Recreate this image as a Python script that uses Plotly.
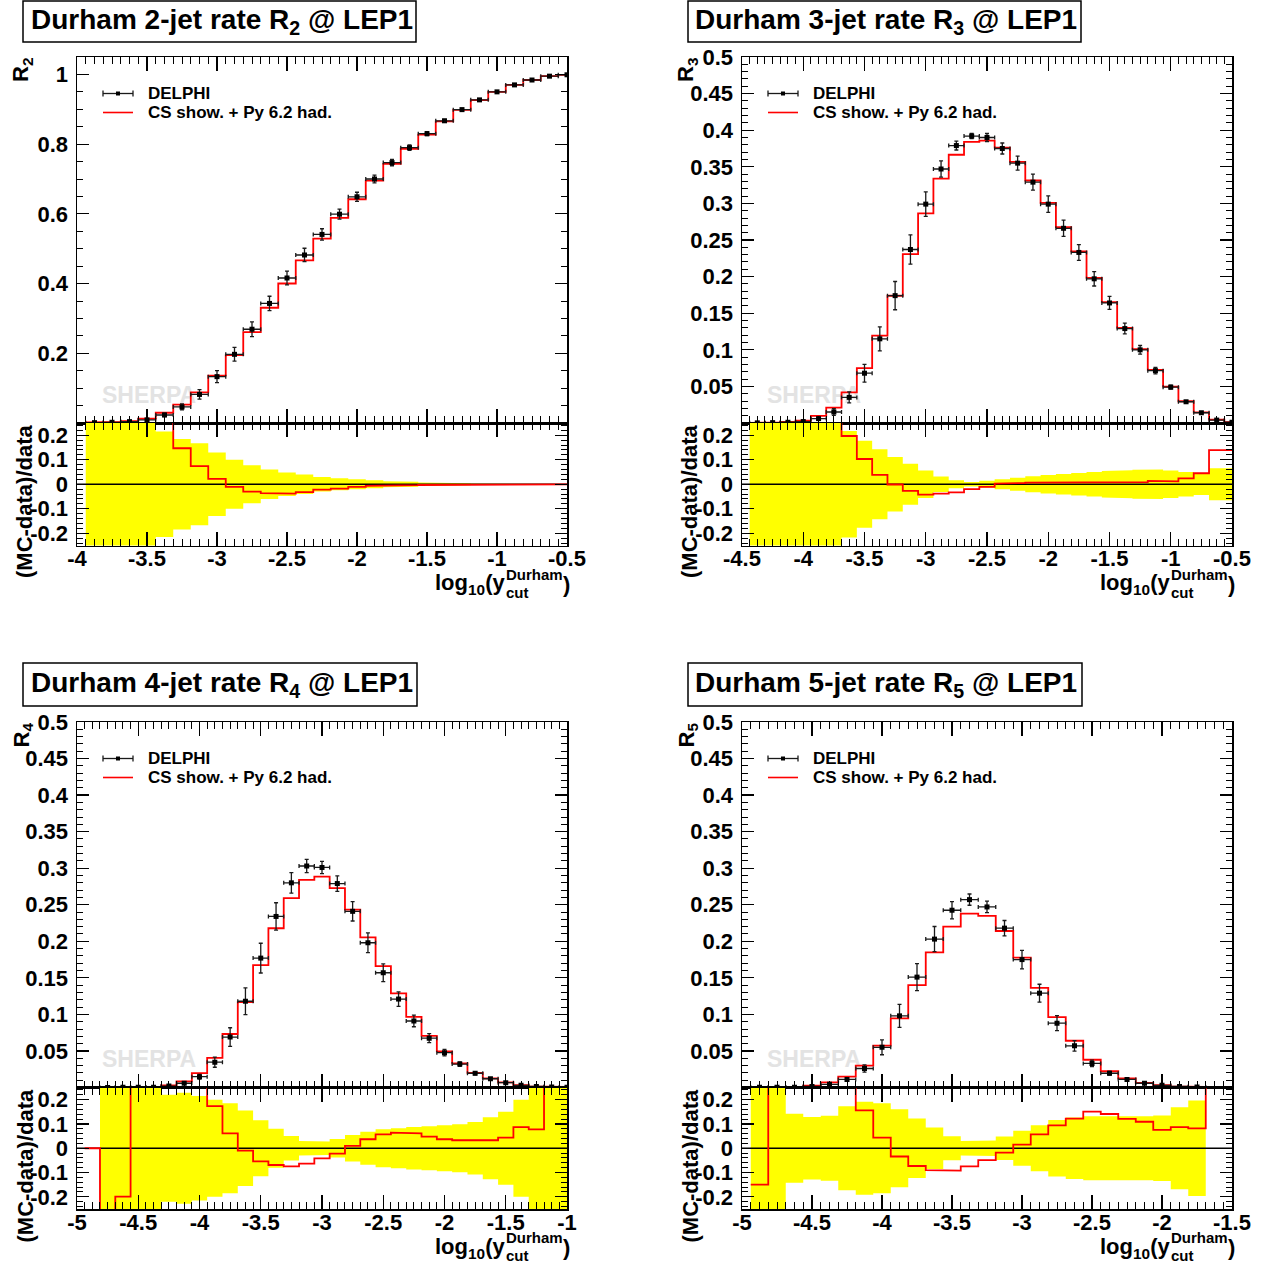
import plotly.graph_objects as go

W, H = 1266, 1268
OFF = 0  # page body margin is removed by the post script
BW = 0.125  # bin width in log10(ycut)
FONT = "Liberation Sans, Arial, Helvetica, sans-serif"

# ---------------- R2 ----------------
r2_x = [-3.875, -3.75, -3.625, -3.5, -3.375, -3.25, -3.125, -3.0, -2.875, -2.75, -2.625, -2.5,
        -2.375, -2.25, -2.125, -2.0, -1.875, -1.75, -1.625, -1.5, -1.375, -1.25, -1.125, -1.0,
        -0.875, -0.75, -0.625, -0.5]
r2_data = [0.001, 0.002, 0.004, 0.009, 0.023, 0.046, 0.082, 0.133, 0.197, 0.269, 0.343, 0.416,
           0.482, 0.541, 0.599, 0.649, 0.700, 0.747, 0.790, 0.830, 0.867, 0.899, 0.927, 0.950,
           0.970, 0.984, 0.995, 0.999]
r2_relerr = [0.6, 0.5, 0.4, 0.3, 0.215, 0.185, 0.167, 0.13, 0.10, 0.078, 0.06, 0.048,
             0.04, 0.03, 0.024, 0.02, 0.016, 0.012, 0.01, 0.007, 0.005, 0.004, 0.003, 0.002,
             0.0015, 0.001, 0.001, 0.001]
r2_ratio = [0.5, 0.5, 0.35, 0.4, 0.28, 0.147, 0.074, 0.022, -0.011, -0.030, -0.036, -0.038,
            -0.032, -0.022, -0.018, -0.011, -0.007, -0.005, -0.004, -0.003, -0.002, -0.001, -0.001, 0.0,
            0.0, 0.0, 0.0, 0.0]

# ---------------- R3 ----------------
r3_x = [-4.375, -4.25, -4.125, -4.0, -3.875, -3.75, -3.625, -3.5, -3.375, -3.25, -3.125, -3.0,
        -2.875, -2.75, -2.625, -2.5, -2.375, -2.25, -2.125, -2.0, -1.875, -1.75, -1.625, -1.5,
        -1.375, -1.25, -1.125, -1.0, -0.875, -0.75, -0.625, -0.5]
r3_data = [0.0002, 0.0005, 0.001, 0.002, 0.006, 0.015, 0.035, 0.068, 0.115, 0.174, 0.237, 0.299,
           0.347, 0.379, 0.392, 0.390, 0.375, 0.355, 0.329, 0.299, 0.266, 0.233, 0.197, 0.164,
           0.129, 0.100, 0.0715, 0.049, 0.029, 0.014, 0.004, 0.001]
r3_relerr = [0.6, 0.6, 0.5, 0.4, 0.35, 0.3, 0.217, 0.178, 0.143, 0.111, 0.084, 0.056,
             0.032, 0.016, 0.009, 0.014, 0.02, 0.027, 0.033, 0.038, 0.042, 0.046, 0.05, 0.054,
             0.057, 0.059, 0.06, 0.056, 0.05, 0.044, 0.065, 0.065]
r3_ratio = [0.5, 0.5, 0.5, 0.6, 0.6, 0.4, 0.197, 0.103, 0.038, -0.001, -0.027, -0.042,
            -0.038, -0.033, -0.02, -0.011, 0.003, 0.005, 0.007, 0.006, 0.006, 0.006, 0.006, 0.007,
            0.008, 0.009, 0.014, 0.012, 0.024, 0.045, 0.139, 0.139]

# ---------------- R4 ----------------
r4_x = [-4.875, -4.75, -4.625, -4.5, -4.375, -4.25, -4.125, -4.0, -3.875, -3.75, -3.625, -3.5,
        -3.375, -3.25, -3.125, -3.0, -2.875, -2.75, -2.625, -2.5, -2.375, -2.25, -2.125, -2.0,
        -1.875, -1.75, -1.625, -1.5, -1.375, -1.25, -1.125, -1.0]
r4_data = [None, 0.0001, 0.0002, 0.0003, 0.0005, 0.002, 0.0058, 0.0148, 0.0346, 0.069, 0.118, 0.177,
           0.234, 0.280, 0.303, 0.301, 0.279, 0.241, 0.198, 0.157, 0.121, 0.091, 0.0675, 0.0477,
           0.032, 0.0195, 0.012, 0.0066, 0.003, 0.0015, 0.0008, 0.0004]
r4_relerr = [0.0, 0.6, 0.4, 0.3, 0.27, 0.22, 0.228, 0.215, 0.2, 0.185, 0.155, 0.115,
             0.08, 0.05, 0.03, 0.028, 0.038, 0.055, 0.068, 0.078, 0.082, 0.087, 0.091, 0.095,
             0.099, 0.108, 0.128, 0.15, 0.2, 0.3, 0.4, 0.5]
r4_ratio = [0.0, -0.5, -0.199, 0.5, 0.6, 0.5, 0.46, 0.32, 0.173, 0.061, -0.0095, -0.054,
            -0.069, -0.075, -0.063, -0.042, -0.022, 0.0095, 0.037, 0.057, 0.064, 0.061, 0.048, 0.037,
            0.033, 0.033, 0.033, 0.044, 0.087, 0.078, 0.5, 0.5]

# ---------------- R5 ----------------
r5_x = [-4.875, -4.75, -4.625, -4.5, -4.375, -4.25, -4.125, -4.0, -3.875, -3.75, -3.625, -3.5,
        -3.375, -3.25, -3.125, -3.0, -2.875, -2.75, -2.625, -2.5, -2.375, -2.25, -2.125, -2.0,
        -1.875, -1.75, -1.625]
r5_data = [0.0003, 0.0004, 0.0005, 0.0015, 0.0044, 0.011, 0.026, 0.055, 0.098, 0.151, 0.203, 0.2425,
           0.257, 0.247, 0.218, 0.175, 0.129, 0.088, 0.057, 0.033, 0.0195, 0.011, 0.0058, 0.003,
           0.0015, 0.0007, None]
r5_relerr = [0.6, 0.5, 0.142, 0.129, 0.134, 0.173, 0.191, 0.185, 0.161, 0.122, 0.085, 0.049,
             0.03, 0.032, 0.048, 0.072, 0.095, 0.116, 0.127, 0.132, 0.132, 0.129, 0.132, 0.135,
             0.169, 0.197, 0.0]
r5_ratio = [-0.15, 1.0, 1.0, 0.8, 0.6, 0.35, 0.156, 0.044, -0.034, -0.073, -0.09, -0.092,
            -0.075, -0.049, -0.018, 0.015, 0.057, 0.094, 0.122, 0.151, 0.141, 0.121, 0.109, 0.076,
            0.087, 0.082, 0.5]

# ---------------- tick labels ----------------
p1_xticks = [-4, -3.5, -3, -2.5, -2, -1.5, -1, -0.5]
p1_xtext = ["-4", "-3.5", "-3", "-2.5", "-2", "-1.5", "-1", "-0.5"]
p2_xticks = [-4.5, -4, -3.5, -3, -2.5, -2, -1.5, -1, -0.5]
p2_xtext = ["-4.5", "-4", "-3.5", "-3", "-2.5", "-2", "-1.5", "-1", "-0.5"]
p3_xticks = [-5, -4.5, -4, -3.5, -3, -2.5, -2, -1.5, -1]
p3_xtext = ["-5", "-4.5", "-4", "-3.5", "-3", "-2.5", "-2", "-1.5", "-1"]
p4_xticks = [-5, -4.5, -4, -3.5, -3, -2.5, -2, -1.5]
p4_xtext = ["-5", "-4.5", "-4", "-3.5", "-3", "-2.5", "-2", "-1.5"]
r2_yticks = [0.2, 0.4, 0.6, 0.8, 1.0]
r2_ytext = ["0.2", "0.4", "0.6", "0.8", "1"]
rn_yticks = [0.05, 0.1, 0.15, 0.2, 0.25, 0.3, 0.35, 0.4, 0.45, 0.5]
rn_ytext = ["0.05", "0.1", "0.15", "0.2", "0.25", "0.3", "0.35", "0.4", "0.45", "0.5"]
ratio_yticks = [-0.2, -0.1, 0, 0.1, 0.2]
ratio_ytext = ["-0.2", "-0.1", "0", "0.1", "0.2"]

DATA_LABEL = "DELPHI"
MC_LABEL = "CS show. + Py 6.2 had."
RATIO_TITLE = "(MC-data)/data"

PANELS = [
    dict(x=r2_x, data=r2_data, rel=r2_relerr, ratio=r2_ratio, xr=[-4, -0.5], xt=p1_xticks, xtt=p1_xtext,
         yr=[0, 1.05], yt=r2_yticks, ytt=r2_ytext, ymin=0.05,
         L=77, R=567, T=57, M=423, B=545.5, box=(23, 416, 1, 42), tx=30,
         title="Durham 2-jet rate R<sub>2</sub> @ LEP1", ylab="R<sub>2</sub>"),
    dict(x=r3_x, data=r3_data, rel=r3_relerr, ratio=r3_ratio, xr=[-4.5, -0.5], xt=p2_xticks, xtt=p2_xtext,
         yr=[0, 0.5], yt=rn_yticks, ytt=rn_ytext, ymin=0.01,
         L=742, R=1232, T=57, M=423, B=545.5, box=(688, 1081, 1, 42), tx=694,
         title="Durham 3-jet rate R<sub>3</sub> @ LEP1", ylab="R<sub>3</sub>"),
    dict(x=r4_x, data=r4_data, rel=r4_relerr, ratio=r4_ratio, xr=[-5, -1], xt=p3_xticks, xtt=p3_xtext,
         yr=[0, 0.5], yt=rn_yticks, ytt=rn_ytext, ymin=0.01,
         L=77, R=567, T=722, M=1087.5, B=1209, box=(23, 417, 663, 706), tx=30,
         title="Durham 4-jet rate R<sub>4</sub> @ LEP1", ylab="R<sub>4</sub>"),
    dict(x=r5_x, data=r5_data, rel=r5_relerr, ratio=r5_ratio, xr=[-5, -1.5], xt=p4_xticks, xtt=p4_xtext,
         yr=[0, 0.5], yt=rn_yticks, ytt=rn_ytext, ymin=0.01,
         L=742, R=1232, T=722, M=1087.5, B=1209, box=(688, 1082, 663, 706), tx=694,
         title="Durham 5-jet rate R<sub>5</sub> @ LEP1", ylab="R<sub>5</sub>"),
]


def fx(p):
    return (p - OFF) / W


def fy(p):
    return 1 - (p - OFF) / H


def steps(centers, vals):
    xs, ys = [], []
    for c, v in zip(centers, vals):
        if v is None:
            xs.append(None)
            ys.append(None)
            continue
        xs += [c - BW / 2, c + BW / 2]
        ys += [v, v]
    return xs, ys


def font(size, color="black"):
    return dict(family=FONT, size=size, color=color, weight="bold")


def ann(text, x, y, size, xanchor="left", yanchor="middle", angle=0, color="black"):
    return dict(text=text, x=fx(x), y=fy(y), xref="paper", yref="paper", xanchor=xanchor,
                yanchor=yanchor, showarrow=False, textangle=angle, font=font(size, color),
                borderpad=0)


fig = go.Figure()
layout = dict(width=W, height=H, margin=dict(l=0, r=0, t=0, b=0, pad=0, autoexpand=False),
              paper_bgcolor="white", plot_bgcolor="white", showlegend=False)
shapes, annotations = [], []

TICKFONT = font(22)

for i, p in enumerate(PANELS):
    im, ir = 2 * i + 1, 2 * i + 2
    xm, ym = ("x" if im == 1 else f"x{im}"), ("y" if im == 1 else f"y{im}")
    xr_, yr_ = f"x{ir}", f"y{ir}"
    xdom = [fx(p["L"]), fx(p["R"])]
    common_x = dict(domain=xdom, range=p["xr"], tickmode="array", tickvals=p["xt"], ticktext=p["xtt"],
                    ticks="inside", ticklen=14, tickwidth=1.2, tickcolor="black",
                    minor=dict(ticks="inside", ticklen=7, tick0=p["xr"][0], dtick=0.0625,
                               tickcolor="black", tickwidth=1, showgrid=False),
                    showline=True, linecolor="black", linewidth=1.5, mirror="ticks",
                    showgrid=False, zeroline=False, layer="above traces", tickfont=TICKFONT,
                    fixedrange=True, automargin=False)
    common_y = dict(ticks="inside", ticklen=12, tickwidth=1.2, tickcolor="black",
                    showline=True, linecolor="black", linewidth=1.5, mirror="ticks",
                    showgrid=False, zeroline=False, layer="above traces", tickfont=TICKFONT,
                    fixedrange=True, ticklabelstandoff=3, automargin=False)
    layout["xaxis" if im == 1 else f"xaxis{im}"] = dict(common_x, anchor=ym, showticklabels=False)
    layout[f"xaxis{ir}"] = dict(common_x, anchor=yr_, showticklabels=True, ticklabelstandoff=-7)
    layout["yaxis" if im == 1 else f"yaxis{im}"] = dict(
        common_y, domain=[fy(p["M"]), fy(p["T"])], anchor=xm, range=p["yr"], tickmode="array",
        tickvals=p["yt"], ticktext=p["ytt"],
        minor=dict(ticks="inside", ticklen=6, tick0=0, dtick=p["ymin"], tickcolor="black",
                   tickwidth=1, showgrid=False))
    layout[f"yaxis{ir}"] = dict(
        common_y, domain=[fy(p["B"]), fy(p["M"])], anchor=xr_, range=[-0.25, 0.25], tickmode="array",
        tickvals=ratio_yticks, ticktext=ratio_ytext,
        minor=dict(ticks="inside", ticklen=6, tick0=0, dtick=0.02, tickcolor="black",
                   tickwidth=1, showgrid=False))

    centers, data, rel, ratio = p["x"], p["data"], p["rel"], p["ratio"]
    mc = [None if d is None else d * (1 + r) for d, r in zip(data, ratio)]
    err = [None if d is None else d * e for d, e in zip(data, rel)]

    # SHERPA watermark (behind data)
    x0, x1 = p["xr"]
    y0, y1 = p["yr"]
    wx = x0 + (25 / (p["R"] - p["L"])) * (x1 - x0)
    wy = y0 + (26 / (p["M"] - p["T"])) * (y1 - y0)
    fig.add_trace(go.Scatter(x=[wx], y=[wy], mode="text", text=["SHERPA"], textposition="middle right",
                             textfont=font(23, "#e3e3e3"), hoverinfo="skip", xaxis=xm, yaxis=ym))

    # MC step line (main)
    sx, sy = steps(centers, mc)
    fig.add_trace(go.Scatter(x=sx, y=sy, mode="lines", line=dict(color="#ff0000", width=1.8),
                             hoverinfo="skip", xaxis=xm, yaxis=ym, name=MC_LABEL))
    # data points
    fig.add_trace(go.Scatter(x=centers, y=data, mode="markers",
                             marker=dict(symbol="square", size=5, color="black"),
                             error_y=dict(type="data", array=err, color="#1a1a1a", thickness=1.3, width=2),
                             error_x=dict(type="constant", value=BW / 2, color="#1a1a1a", thickness=1.3, width=2),
                             xaxis=xm, yaxis=ym, name=DATA_LABEL))

    # ratio: yellow band
    ux, uy = steps(centers, rel)
    lx, ly = steps(centers, [-r for r in rel])
    fig.add_trace(go.Scatter(x=ux, y=uy, mode="lines", line=dict(width=0, color="#ffff00"),
                             hoverinfo="skip", xaxis=xr_, yaxis=yr_))
    fig.add_trace(go.Scatter(x=lx, y=ly, mode="lines", line=dict(width=0, color="#ffff00"),
                             fill="tonexty", fillcolor="#ffff00", hoverinfo="skip", xaxis=xr_, yaxis=yr_))
    # zero line
    fig.add_trace(go.Scatter(x=p["xr"], y=[0, 0], mode="lines", line=dict(color="black", width=1.3),
                             hoverinfo="skip", xaxis=xr_, yaxis=yr_))
    # ratio MC line
    rx, ry = steps(centers, ratio)
    fig.add_trace(go.Scatter(x=rx, y=ry, mode="lines", line=dict(color="#ff0000", width=1.8),
                             hoverinfo="skip", xaxis=xr_, yaxis=yr_))

    # title box
    bx0, bx1, by0, by1 = p["box"]
    shapes.append(dict(type="rect", xref="paper", yref="paper", x0=fx(bx0), x1=fx(bx1), y0=fy(by1),
                       y1=fy(by0), line=dict(color="black", width=1.5), fillcolor="white", layer="above"))
    annotations.append(ann(p["title"], p["tx"], (by0 + by1) / 2, 28))

    # legend
    L, T = p["L"], p["T"]
    ly1, ly2 = T + 36.5, T + 55.5
    shapes.append(dict(type="line", xref="paper", yref="paper", x0=fx(L + 26), x1=fx(L + 56),
                       y0=fy(ly1), y1=fy(ly1), line=dict(color="#1a1a1a", width=1.3)))
    for cx in (L + 26, L + 56):
        shapes.append(dict(type="line", xref="paper", yref="paper", x0=fx(cx), x1=fx(cx),
                           y0=fy(ly1 - 3), y1=fy(ly1 + 3), line=dict(color="#1a1a1a", width=1.3)))
    shapes.append(dict(type="rect", xref="paper", yref="paper", x0=fx(L + 39), x1=fx(L + 43),
                       y0=fy(ly1 + 2), y1=fy(ly1 - 2), line=dict(width=0), fillcolor="black"))
    shapes.append(dict(type="line", xref="paper", yref="paper", x0=fx(L + 26), x1=fx(L + 56),
                       y0=fy(ly2), y1=fy(ly2), line=dict(color="#ff0000", width=1.6)))
    annotations.append(ann(DATA_LABEL, L + 70, ly1, 17))
    annotations.append(ann(MC_LABEL, L + 70, ly2, 17))

    # axis titles
    annotations.append(ann(p["ylab"], L - 55, T, 22, xanchor="center", yanchor="top", angle=-90))
    annotations.append(ann(RATIO_TITLE, L - 52, p["M"], 22, xanchor="center", yanchor="top", angle=-90))
    R, B = p["R"], p["B"]
    annotations.append(ann("log<sub>10</sub>(y", R - 61, B + 38.5, 22, xanchor="right"))
    annotations.append(ann("Durham", R - 62, B + 28.5, 15))
    annotations.append(ann("cut", R - 62, B + 46.5, 15))
    annotations.append(ann(")", R - 5, B + 38.5, 22))

layout["shapes"] = shapes
layout["annotations"] = annotations
fig.update_layout(**layout)
fig.write_html("out.html", config={"displayModeBar": False, "staticPlot": True},
               post_script="document.body.style.margin='0px';document.body.style.padding='0px';")
